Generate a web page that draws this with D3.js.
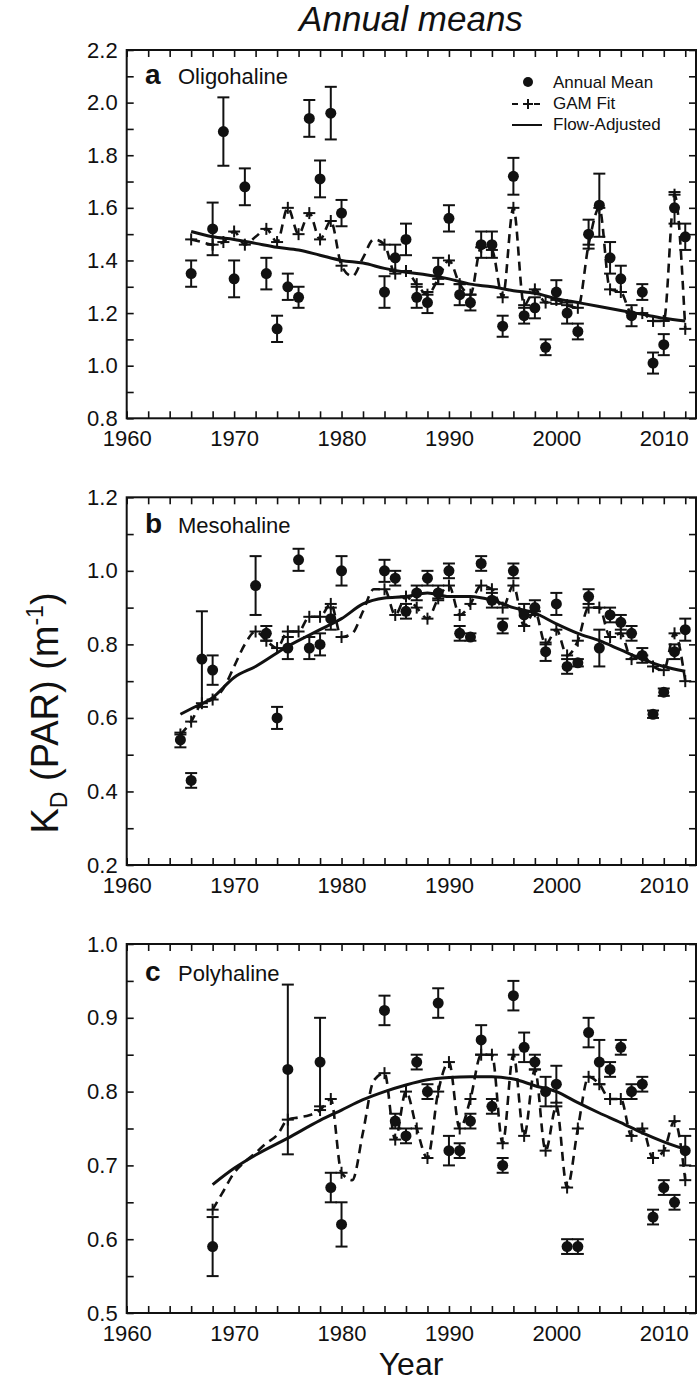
<!DOCTYPE html>
<html>
<head>
<meta charset="utf-8">
<script src="https://cdn.jsdelivr.net/npm/d3@7"></script>
<style>
  html, body { margin: 0; padding: 0; background: #fff; }
  svg { display: block; }
  text { font-family: "Liberation Sans", Arial, Helvetica, sans-serif; fill: #111; }
</style>
</head>
<body>
<svg id="chart" width="698" height="1383"></svg>
<script>
// ---------------- DATA ----------------
// Panel a: Oligohaline
const yearsA = [1966,1968,1969,1970,1971,1973,1974,1975,1976,1977,1978,1979,1980,
  1984,1985,1986,1987,1988,1989,1990,1991,1992,1993,1994,1995,1996,1997,1998,1999,
  2000,2001,2002,2003,2004,2005,2006,2007,2008,2009,2010,2011,2012];
const meanA = [1.35,1.52,1.89,1.33,1.68,1.35,1.14,1.30,1.26,1.94,1.71,1.96,1.58,
  1.28,1.41,1.48,1.26,1.24,1.36,1.56,1.27,1.24,1.46,1.46,1.15,1.72,1.19,1.22,1.07,
  1.28,1.20,1.13,1.50,1.61,1.41,1.33,1.19,1.28,1.01,1.08,1.60,1.49];
const errA = [0.05,0.10,0.13,0.07,0.07,0.06,0.05,0.05,0.04,0.07,0.07,0.10,0.05,
  0.06,0.05,0.06,0.04,0.04,0.05,0.05,0.04,0.03,0.05,0.05,0.04,0.07,0.03,0.04,0.03,
  0.045,0.04,0.03,0.055,0.12,0.06,0.05,0.04,0.03,0.04,0.04,0.06,0.05];
const gamYearsA = [1966,1967,1968,1969,1970,1971,1972,1973,1974,1975,1976,1977,1978,1979,
  1980,1981,1982,1983,1984,1985,1986,1987,1988,1989,1990,1991,1992,1993,1994,1995,1996,
  1997,1998,1999,2000,2001,2002,2003,2004,2005,2006,2007,2008,2009,2010,2011,2012];
const gamA = [1.48,1.47,1.46,1.47,1.51,1.46,1.49,1.52,1.47,1.60,1.50,1.58,1.48,1.55,
  1.38,1.34,1.41,1.48,1.46,1.35,1.36,1.31,1.27,1.33,1.40,1.31,1.27,1.45,1.44,1.26,1.60,
  1.23,1.29,1.24,1.25,1.23,1.22,1.46,1.60,1.29,1.28,1.20,1.20,1.17,1.17,1.65,1.14];
const flowYearsA = [1966,1968,1970,1972,1974,1976,1978,1980,1982,1984,1986,1988,1990,
  1992,1994,1996,1998,2000,2002,2004,2006,2008,2010,2012];
const flowA = [1.51,1.49,1.48,1.465,1.45,1.44,1.42,1.40,1.39,1.37,1.355,1.345,1.33,
  1.31,1.30,1.285,1.275,1.255,1.24,1.225,1.21,1.195,1.18,1.17];

// Panel b: Mesohaline
const yearsB = [1965,1966,1967,1968,1972,1973,1974,1975,1976,1977,1978,1979,1980,
  1984,1985,1986,1987,1988,1989,1990,1991,1992,1993,1994,1995,1996,1997,1998,1999,
  2000,2001,2002,2003,2004,2005,2006,2007,2008,2009,2010,2011,2012];
const meanB = [0.54,0.43,0.76,0.73,0.96,0.83,0.60,0.79,1.03,0.79,0.80,0.87,1.00,
  1.00,0.98,0.89,0.94,0.98,0.94,1.00,0.83,0.82,1.02,0.92,0.85,1.00,0.88,0.90,0.78,
  0.91,0.74,0.75,0.93,0.79,0.88,0.86,0.83,0.77,0.61,0.67,0.78,0.84];
const errB = [0.02,0.02,0.13,0.04,0.08,0.02,0.03,0.03,0.03,0.03,0.03,0.03,0.04,
  0.03,0.02,0.02,0.02,0.02,0.02,0.02,0.02,0.01,0.02,0.02,0.02,0.02,0.03,0.02,0.025,
  0.03,0.02,0.01,0.02,0.05,0.02,0.02,0.02,0.02,0.01,0.01,0.02,0.03];
const gamYearsB = [1965,1966,1967,1968,1969,1970,1971,1972,1973,1974,1975,1976,1977,1978,
  1979,1980,1981,1982,1983,1984,1985,1986,1987,1988,1989,1990,1991,1992,1993,1994,1995,
  1996,1997,1998,1999,2000,2001,2002,2003,2004,2005,2006,2007,2008,2009,2010,2011,2012];
const gamB = [0.555,0.59,0.64,0.65,0.68,0.74,0.80,0.835,0.81,0.79,0.835,0.835,0.875,0.875,
  0.91,0.82,0.83,0.89,0.95,0.95,0.88,0.93,0.90,0.87,0.925,0.96,0.88,0.91,0.96,0.95,0.90,
  0.96,0.85,0.89,0.80,0.84,0.77,0.81,0.90,0.90,0.82,0.83,0.76,0.77,0.74,0.73,0.83,0.70];
const flowYearsB = [1965,1966,1968,1970,1972,1975,1978,1980,1982,1984,1986,1988,1990,
  1992,1994,1996,1998,2000,2002,2004,2006,2008,2010,2012];
const flowB = [0.61,0.625,0.655,0.71,0.74,0.795,0.84,0.87,0.91,0.926,0.93,0.94,0.93,
  0.93,0.92,0.90,0.885,0.856,0.83,0.81,0.785,0.76,0.74,0.727];

// Panel c: Polyhaline
const yearsC = [1968,1975,1978,1979,1980,
  1984,1985,1986,1987,1988,1989,1990,1991,1992,1993,1994,1995,1996,1997,1998,1999,
  2000,2001,2002,2003,2004,2005,2006,2007,2008,2009,2010,2011,2012];
const meanC = [0.59,0.83,0.84,0.67,0.62,
  0.91,0.76,0.74,0.84,0.80,0.92,0.72,0.72,0.76,0.87,0.78,0.70,0.93,0.86,0.84,0.80,
  0.81,0.59,0.59,0.88,0.84,0.83,0.86,0.80,0.81,0.63,0.67,0.65,0.72];
const errC = [0.04,0.115,0.06,0.02,0.03,
  0.02,0.01,0.01,0.01,0.01,0.02,0.02,0.01,0.01,0.02,0.01,0.01,0.02,0.02,0.01,0.02,
  0.025,0.01,0.01,0.02,0.03,0.01,0.01,0.01,0.01,0.01,0.01,0.01,0.02];
const gamYearsC = [1968,1969,1970,1971,1972,1973,1974,1975,1976,1977,1978,1979,1980,1981,
  1982,1983,1984,1985,1986,1987,1988,1989,1990,1991,1992,1993,1994,1995,1996,1997,1998,
  1999,2000,2001,2002,2003,2004,2005,2006,2007,2008,2009,2010,2011,2012];
const gamC = [0.64,0.665,0.69,0.705,0.717,0.73,0.741,0.762,0.765,0.768,0.775,0.79,0.69,0.68,
  0.745,0.815,0.825,0.735,0.80,0.75,0.71,0.80,0.84,0.75,0.79,0.85,0.85,0.73,0.85,0.74,0.83,
  0.72,0.78,0.67,0.75,0.82,0.81,0.79,0.79,0.74,0.75,0.71,0.72,0.76,0.68];
const flowYearsC = [1968,1970,1972,1975,1978,1980,1982,1984,1986,1988,1990,1992,1994,
  1996,1998,2000,2002,2004,2006,2008,2010,2012];
const flowC = [0.674,0.696,0.714,0.737,0.761,0.775,0.789,0.80,0.809,0.816,0.819,0.82,0.82,
  0.817,0.808,0.80,0.785,0.771,0.758,0.744,0.732,0.722];

// Axis ticks / labels
const xTickYears = [1960,1962,1964,1966,1968,1970,1972,1974,1976,1978,1980,1982,1984,1986,
  1988,1990,1992,1994,1996,1998,2000,2002,2004,2006,2008,2010,2012];
const xLabelYears = [1960,1970,1980,1990,2000,2010];
const yTicksA = [0.8,0.9,1.0,1.1,1.2,1.3,1.4,1.5,1.6,1.7,1.8,1.9,2.0,2.1,2.2];
const yLabelsA = [0.8,1.0,1.2,1.4,1.6,1.8,2.0,2.2];
const yTicksB = [0.2,0.3,0.4,0.5,0.6,0.7,0.8,0.9,1.0,1.1,1.2];
const yLabelsB = [0.2,0.4,0.6,0.8,1.0,1.2];
const yTicksC = [0.5,0.55,0.6,0.65,0.7,0.75,0.8,0.85,0.9,0.95,1.0];
const yLabelsC = [0.5,0.6,0.7,0.8,0.9,1.0];

const panelLetters = ["a","b","c"];
const panelNames = ["Oligohaline","Mesohaline","Polyhaline"];
const legendLabels = ["Annual Mean","GAM Fit","Flow-Adjusted"];
const titleText = "Annual means";
const xTitle = "Year";

// ---------------- DRAWING ----------------
const svg = d3.select("#chart");
const X0 = 126.7, X1 = 696;
const x = d3.scaleLinear().domain([1960, 2013]).range([X0, X1]);

const panels = [
  {years: yearsA, mean: meanA, err: errA, gy: gamYearsA, g: gamA, fy: flowYearsA, f: flowA,
   dom: [0.8, 2.2], top: 50, bottom: 418.3, ticks: yTicksA, labels: yLabelsA, labelY: 84},
  {years: yearsB, mean: meanB, err: errB, gy: gamYearsB, g: gamB, fy: flowYearsB, f: flowB,
   dom: [0.2, 1.2], top: 497.3, bottom: 865, ticks: yTicksB, labels: yLabelsB, labelY: 533},
  {years: yearsC, mean: meanC, err: errC, gy: gamYearsC, g: gamC, fy: flowYearsC, f: flowC,
   dom: [0.5, 1.0], top: 944, bottom: 1313, ticks: yTicksC, labels: yLabelsC, labelY: 981}
];

const near = (a, b) => Math.abs(a - b) < 1e-6;

panels.forEach((p, i) => {
  const y = d3.scaleLinear().domain(p.dom).range([p.bottom, p.top]);
  const g = svg.append("g");

  // axes
  const xb = d3.axisBottom(x).tickValues(xTickYears).tickSizeInner(-7).tickSizeOuter(0)
    .tickPadding(12).tickFormat(d => xLabelYears.includes(d) ? String(d) : "");
  const xt = d3.axisTop(x).tickValues(xTickYears).tickSizeInner(-7).tickSizeOuter(0).tickFormat("");
  const yl = d3.axisLeft(y).tickValues(p.ticks).tickSizeInner(-7).tickSizeOuter(0)
    .tickPadding(9).tickFormat(d => p.labels.some(v => near(v, d)) ? d3.format(".1f")(d) : "");
  const yr = d3.axisRight(y).tickValues(p.ticks).tickSizeInner(-7).tickSizeOuter(0).tickFormat("");

  const styleAxis = sel => {
    sel.select(".domain").remove();
    sel.selectAll(".tick line").attr("stroke", "#111").attr("stroke-width", 1.6);
    sel.selectAll(".tick text").attr("font-size", 22).attr("fill", "#111")
      .attr("font-family", "'Liberation Sans', Arial, sans-serif");
  };
  g.append("g").attr("transform", `translate(0,${p.bottom})`).call(xb).call(styleAxis);
  g.append("g").attr("transform", `translate(0,${p.top})`).call(xt).call(styleAxis);
  g.append("g").attr("transform", `translate(${X0},0)`).call(yl).call(styleAxis);
  g.append("g").attr("transform", `translate(${X1},0)`).call(yr).call(styleAxis);

  g.append("rect").attr("x", X0).attr("y", p.top).attr("width", X1 - X0)
    .attr("height", p.bottom - p.top).attr("fill", "none")
    .attr("stroke", "#111").attr("stroke-width", 2);

  // flow-adjusted line
  const flowData = p.fy.map((yr, k) => [yr, p.f[k]]);
  g.append("path").datum(flowData)
    .attr("d", d3.line().x(d => x(d[0])).y(d => y(d[1])).curve(d3.curveMonotoneX))
    .attr("fill", "none").attr("stroke", "#111").attr("stroke-width", 3);

  // GAM dashed line
  const gamData = p.gy.map((yr, k) => [yr, p.g[k]]);
  g.append("path").datum(gamData)
    .attr("d", d3.line().x(d => x(d[0])).y(d => y(d[1])).curve(d3.curveMonotoneX))
    .attr("fill", "none").attr("stroke", "#111").attr("stroke-width", 2.6)
    .attr("stroke-dasharray", "9,6");

  // GAM "+" markers at observed years
  const plusData = gamData.filter(d => p.years.includes(d[0]));
  const pl = g.append("g").selectAll("g").data(plusData).join("g")
    .attr("transform", d => `translate(${x(d[0])},${y(d[1])})`);
  pl.append("line").attr("x1", -6).attr("x2", 6).attr("y1", 0).attr("y2", 0)
    .attr("stroke", "#111").attr("stroke-width", 2);
  pl.append("line").attr("x1", 0).attr("x2", 0).attr("y1", -6).attr("y2", 6)
    .attr("stroke", "#111").attr("stroke-width", 2);

  // error bars + dots
  const obs = p.years.map((yr, k) => ({yr, m: p.mean[k], e: p.err[k]}));
  const eb = g.append("g").selectAll("g").data(obs).join("g");
  eb.append("line").attr("x1", d => x(d.yr)).attr("x2", d => x(d.yr))
    .attr("y1", d => y(d.m - d.e)).attr("y2", d => y(d.m + d.e))
    .attr("stroke", "#111").attr("stroke-width", 2);
  eb.append("line").attr("x1", d => x(d.yr) - 6).attr("x2", d => x(d.yr) + 6)
    .attr("y1", d => y(d.m + d.e)).attr("y2", d => y(d.m + d.e))
    .attr("stroke", "#111").attr("stroke-width", 2);
  eb.append("line").attr("x1", d => x(d.yr) - 6).attr("x2", d => x(d.yr) + 6)
    .attr("y1", d => y(d.m - d.e)).attr("y2", d => y(d.m - d.e))
    .attr("stroke", "#111").attr("stroke-width", 2);
  eb.append("circle").attr("cx", d => x(d.yr)).attr("cy", d => y(d.m)).attr("r", 5.5)
    .attr("fill", "#111");

  // panel label
  g.append("text").attr("x", 145).attr("y", p.labelY).attr("font-size", 28)
    .attr("font-weight", "bold").text(panelLetters[i]);
  g.append("text").attr("x", 178).attr("y", p.labelY).attr("font-size", 22)
    .text(panelNames[i]);
});

// legend (panel a)
const lg = svg.append("g");
lg.append("circle").attr("cx", 528).attr("cy", 82).attr("r", 5).attr("fill", "#111");
lg.append("line").attr("x1", 512).attr("x2", 545).attr("y1", 104).attr("y2", 104)
  .attr("stroke", "#111").attr("stroke-width", 2).attr("stroke-dasharray", "6,5")
  .attr("stroke-dashoffset", 0);
lg.append("line").attr("x1", 528).attr("x2", 528).attr("y1", 99).attr("y2", 109)
  .attr("stroke", "#111").attr("stroke-width", 2);
lg.append("line").attr("x1", 523).attr("x2", 533).attr("y1", 104).attr("y2", 104)
  .attr("stroke", "#111").attr("stroke-width", 2);
lg.append("line").attr("x1", 512).attr("x2", 542).attr("y1", 125).attr("y2", 125)
  .attr("stroke", "#111").attr("stroke-width", 2);
legendLabels.forEach((t, k) => {
  lg.append("text").attr("x", 553).attr("y", 88 + k * 21).attr("font-size", 17).text(t);
});

// title
svg.append("text").attr("x", 411).attr("y", 31).attr("text-anchor", "middle")
  .attr("font-size", 35).attr("font-style", "italic").text(titleText);

// x axis title
svg.append("text").attr("x", 411).attr("y", 1375).attr("text-anchor", "middle")
  .attr("font-size", 32).text(xTitle);

// y axis title: K_D (PAR) (m^-1)
const yt = svg.append("text").attr("transform", "translate(58,713) rotate(-90)")
  .attr("text-anchor", "middle").attr("font-size", 38);
yt.append("tspan").text("K");
yt.append("tspan").attr("font-size", 23).attr("dy", 9).text("D");
yt.append("tspan").attr("dy", -9).text(" (PAR) (m");
yt.append("tspan").attr("font-size", 23).attr("dy", -15).text("-1");
yt.append("tspan").attr("dy", 15).text(")");
</script>
</body>
</html>
